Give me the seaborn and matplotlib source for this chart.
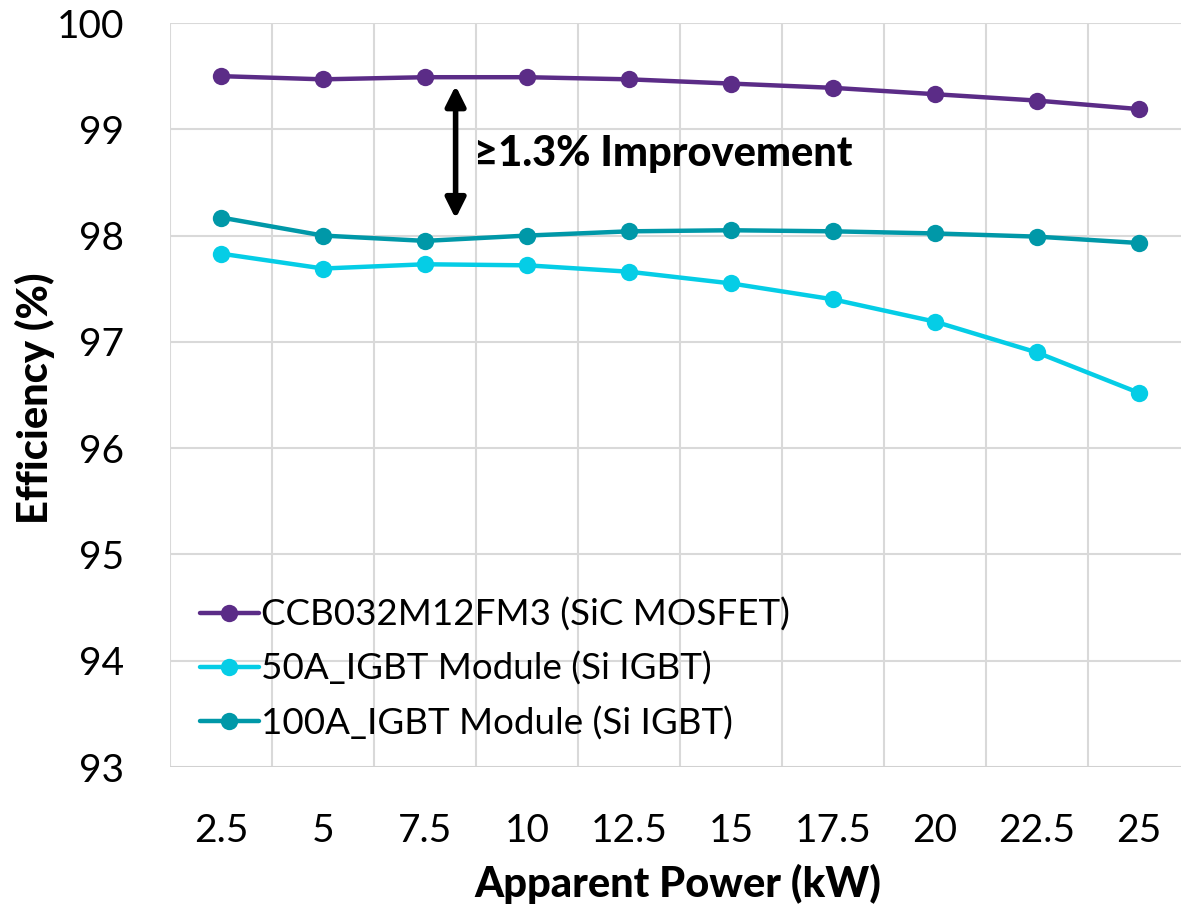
import matplotlib
matplotlib.use("Agg")
import matplotlib.pyplot as plt
import seaborn as sns
import pandas as pd

power_labels = ["2.5", "5", "7.5", "10", "12.5", "15", "17.5", "20", "22.5", "25"]
sic_mosfet = [99.50, 99.47, 99.49, 99.49, 99.47, 99.43, 99.39, 99.33, 99.27, 99.19]
igbt_50a = [97.83, 97.69, 97.73, 97.72, 97.66, 97.55, 97.40, 97.19, 96.90, 96.52]
igbt_100a = [98.17, 98.00, 97.95, 98.00, 98.04, 98.05, 98.04, 98.02, 97.99, 97.93]
series_names = ["CCB032M12FM3 (SiC MOSFET)", "50A_IGBT Module (Si IGBT)", "100A_IGBT Module (Si IGBT)"]
series_colors = ["#5B2C87", "#05CDE6", "#0098A8"]
y_ticks = [93, 94, 95, 96, 97, 98, 99, 100]

frames = []
for name, vals in zip(series_names, [sic_mosfet, igbt_50a, igbt_100a]):
    frames.append(pd.DataFrame({"Power": power_labels, "Efficiency": vals, "Device": name}))
df = pd.concat(frames, ignore_index=True)

sns.set_theme(style="white")
plt.rcParams["font.family"] = ["Lato", "DejaVu Sans"]
plt.rcParams["text.color"] = "black"

fig = plt.figure(figsize=(11.81, 9.07), dpi=100)
ax = fig.add_axes([170 / 1181, 1 - 767 / 907, 1020 / 1181, (767 - 23) / 907])

sns.lineplot(
    data=df, x="Power", y="Efficiency", hue="Device",
    hue_order=series_names, palette=series_colors,
    marker="o", markersize=12.5, markeredgewidth=0, linewidth=3.2,
    ax=ax, sort=False,
)

ax.set_xlim(-0.5, len(power_labels) - 0.5)
ax.set_ylim(93, 100)
ax.set_yticks(y_ticks)
ax.set_yticklabels([str(t) for t in y_ticks])
ax.set_xticks(range(len(power_labels)))
ax.set_xticklabels(power_labels)

# gridlines sit on category boundaries
for b in [i - 0.5 for i in range(len(power_labels) + 1)]:
    ax.axvline(b, color="#d9d9d9", linewidth=1.5, zorder=0)
for t in y_ticks:
    ax.axhline(t, color="#d9d9d9", linewidth=1.5, zorder=0)
ax.axhline(93, color="#cfcfcf", linewidth=1.8, zorder=1)

for s in ax.spines.values():
    s.set_visible(False)
ax.tick_params(axis="both", length=0, labelsize=28, colors="black")
ax.tick_params(axis="y", pad=33)
ax.tick_params(axis="x", pad=33)

ax.set_xlabel("")
ax.set_ylabel("")
fig.text(678 / 1181, 1 - 884 / 907, "Apparent Power (kW)", fontsize=30,
         fontweight="black", ha="center", va="center", color="black")
fig.text(35 / 1181, 1 - 398 / 907, "Efficiency (%)", fontsize=30,
         fontweight="black", ha="center", va="center", rotation=90, color="black")

# improvement callout
ax.annotate(
    "", xy=(2.30, 99.41), xytext=(2.30, 98.16),
    arrowprops=dict(arrowstyle="<|-|>", color="black", lw=4, mutation_scale=30,
                    shrinkA=0, shrinkB=0),
)
ax.text(2.48, 98.77, "≥1.3% Improvement", fontsize=30, fontweight="black",
        va="center", ha="left", color="black")

leg = ax.legend(
    loc="lower left", bbox_to_anchor=(0.015, 0.016), frameon=False,
    fontsize=26.5, handlelength=1.6, handletextpad=0.05, labelspacing=0.55,
    borderaxespad=0,
)
for line in leg.get_lines():
    line.set_linewidth(3.2)
    line.set_markersize(12.5)
for t in leg.get_texts():
    t.set_color("black")

fig.savefig("out.png", dpi=100)
